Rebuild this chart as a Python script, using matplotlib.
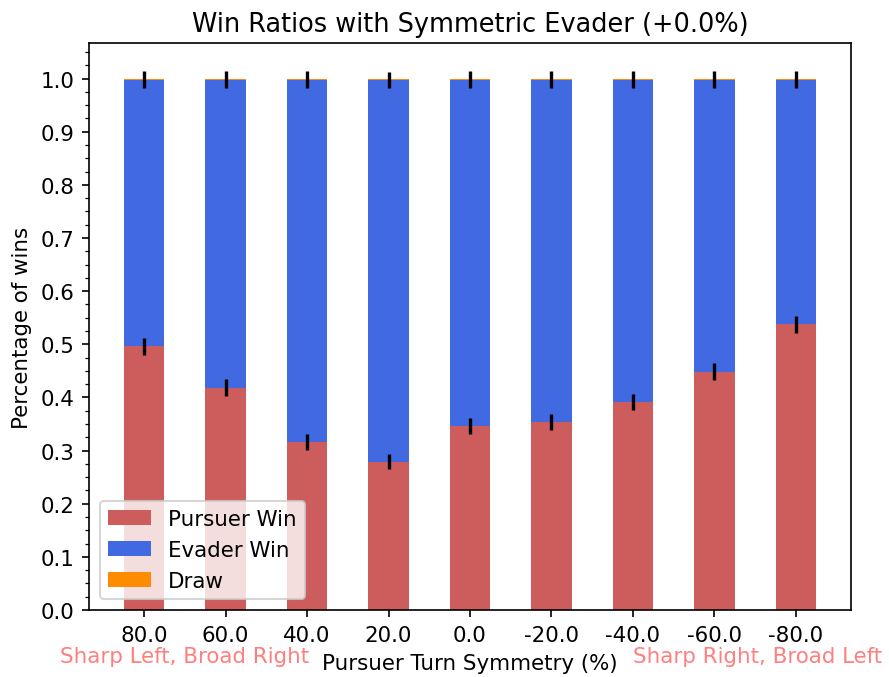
import matplotlib
matplotlib.use("Agg")
import matplotlib.pyplot as plt
import numpy as np
from matplotlib.ticker import MultipleLocator

categories = ["80.0", "60.0", "40.0", "20.0", "0.0", "-20.0", "-40.0", "-60.0", "-80.0"]
pursuer = [0.496, 0.418, 0.316, 0.279, 0.346, 0.354, 0.391, 0.448, 0.538]
draw = [0.002, 0.002, 0.002, 0.002, 0.002, 0.002, 0.002, 0.002, 0.002]
evader = [1 - p - d for p, d in zip(pursuer, draw)]
pursuer_err = [0.016, 0.016, 0.015, 0.014, 0.015, 0.015, 0.015, 0.016, 0.016]
evader_err = [0.016, 0.016, 0.016, 0.015, 0.016, 0.016, 0.016, 0.016, 0.016]

plt.rcParams["font.size"] = 10.25

fig = plt.figure(figsize=(889 / 150, 678 / 150), dpi=150)
ax = fig.add_axes([89 / 889, 1 - 611 / 678, (851 - 89) / 889, (611 - 44) / 678])

x = np.arange(len(categories))
w = 0.5
ax.bar(x, pursuer, w, color="indianred", label="Pursuer Win",
       yerr=pursuer_err, error_kw=dict(elinewidth=1.6, ecolor="black", capsize=0))
ax.bar(x, evader, w, bottom=pursuer, color="royalblue", label="Evader Win",
       yerr=evader_err, error_kw=dict(elinewidth=1.6, ecolor="black", capsize=0))
bottom2 = [p + e for p, e in zip(pursuer, evader)]
ax.bar(x, draw, w, bottom=bottom2, color="darkorange", label="Draw")

ax.set_xticks(x)
ax.set_xticklabels(categories)
ax.set_xlim(-0.675, 8.675)
ax.set_ylim(0, 1.067)
ax.yaxis.set_major_locator(MultipleLocator(0.1))
ax.yaxis.set_minor_locator(MultipleLocator(0.025))
ax.set_ylabel("Percentage of wins")
ax.set_xlabel("Pursuer Turn Symmetry (%)")
ax.set_title("Win Ratios with Symmetric Evader (+0.0%)", fontsize=12.3)
ax.legend(loc="lower left")

fig.text(185 / 889, 1 - 657 / 678, "Sharp Left, Broad Right", color="#ff7f7f",
         ha="center", va="center")
fig.text(758 / 889, 1 - 657 / 678, "Sharp Right, Broad Left", color="#ff7f7f",
         ha="center", va="center")

fig.savefig("out.png", dpi=150)
